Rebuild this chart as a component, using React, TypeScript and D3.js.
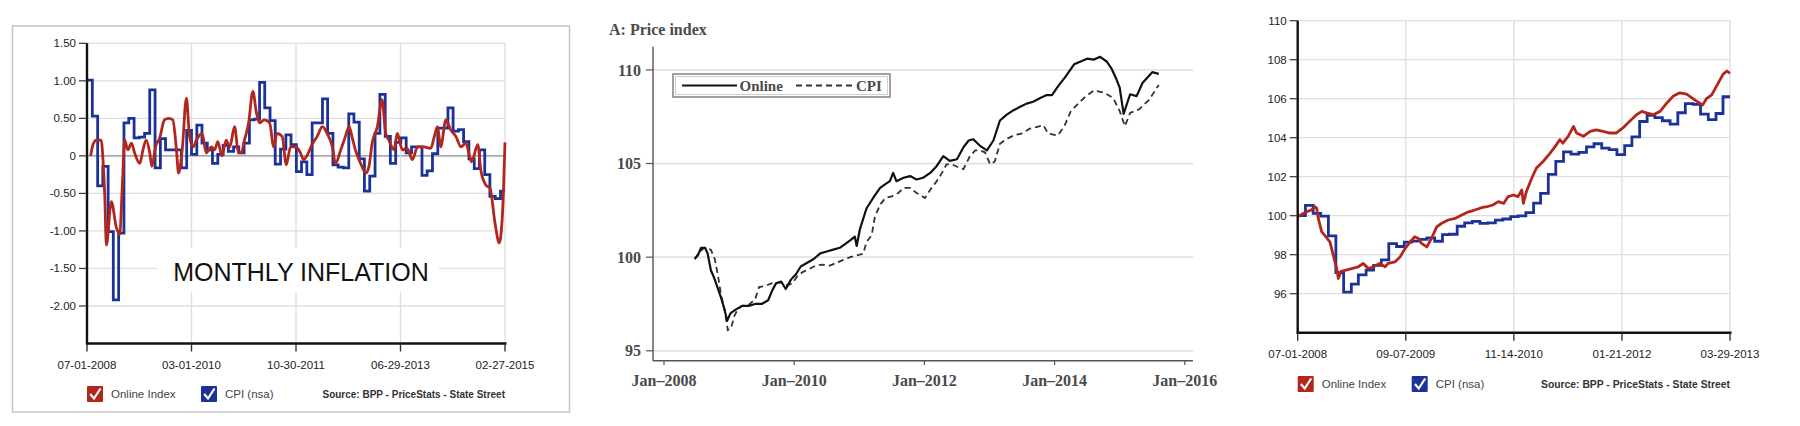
import React from "react";
import * as d3 from "d3";

// ---------- shared ----------
const START = new Date(2008, 6, 1);
const monthDate = (m: number) => new Date(START.getTime() + m * 30.4375 * 864e5);
const parseMDY = d3.timeParse("%m-%d-%Y");

// ---------- Panel 1: monthly inflation ----------
const p1YTicks = [1.5, 1, 0.5, 0, -0.5, -1, -1.5, -2];
const p1XTicks = ["07-01-2008", "03-01-2010", "10-30-2011", "06-29-2013", "02-27-2015"];
const p1CpiChange = [
  1.01, 0.53, -0.4, -0.14, -1.01, -1.92, -1.03,
  0.44, 0.5, 0.24, 0.25, 0.3, 0.88, -0.16, 0.23, 0.08, 0.08, 0.08, -0.16,
  0.34, 0.02, 0.41, 0.17, 0.08, -0.1, 0.02, 0.14, 0.06, 0.12, 0.04, 0.17,
  0.48, 0.49, 0.98, 0.64, 0.47, -0.11, 0.09, 0.28, 0.15, -0.21, -0.08, -0.25,
  0.44, 0.44, 0.76, 0.3, -0.12, -0.15, -0.16, 0.56, 0.45, -0.04, -0.47, -0.27,
  0.3, 0.82, 0.26, -0.1, 0.18, 0.24, 0.04, 0.12, 0.12, -0.26, -0.2, 0.03,
  0.37, 0.37, 0.64, 0.33, 0.35, 0.19, -0.04, -0.17, 0.08, -0.25, -0.54, -0.57,
  -0.47,
];
const p1OnlineMonth = [
  0.7, 1.15, 1.8, 2.7, 3.1, 3.4, 3.7, 4.65, 5.6, 6.25, 6.75, 7.2, 7.8, 8.5, 9.1, 10.1, 10.7, 11.3, 12.0, 12.4,
  13.1, 13.9, 14.8, 15.6, 16.4, 17.1, 17.5, 18.2, 19.0, 19.6, 20.3, 20.9, 22.0, 22.8, 23.8, 24.4, 25.0, 25.8,
  26.6, 27.3, 28.2, 28.9, 29.5, 30.1, 30.9, 31.7, 32.4, 33.0, 33.9, 34.9, 35.7, 36.3, 37.3, 38.1, 38.9, 39.9,
  40.8, 41.4, 42.1, 43.0, 44.0, 45.0, 45.9, 46.9, 47.5, 48.5, 49.4, 50.1, 50.7, 51.3, 52.3, 53.3, 53.9, 54.5,
  55.5, 56.4, 57.1, 57.7, 58.7, 59.3, 60.3, 61.2, 62.2, 63.2, 64.4, 65.7, 66.4, 67.0, 67.6, 68.6, 69.5, 70.5,
  71.5, 72.4, 73.5, 74.7, 75.3, 76.4, 77.0, 78.0, 78.8, 79.4, 79.9,
];
const p1OnlineChange = [
  0.0, 0.15, 0.21, 0.21, -0.1, -0.54, -1.19, -0.61, -0.95, -1.05, -0.4, 0.21, 0.08, 0.17, 0.04, -0.1, 0.08, 0.21, 0.04, -0.14,
  0.12, 0.24, 0.48, 0.5, 0.48, 0.08, -0.23, 0.08, 0.77, 0.26, 0.12, 0.21, 0.3, 0.04, 0.12, 0.08, 0.19, 0.0,
  0.21, 0.12, 0.39, 0.06, 0.04, 0.21, 0.44, 0.86, 0.57, 0.44, 0.48, 0.44, 0.12, 0.3, 0.26, -0.12, 0.12, 0.12,
  0.04, -0.05, 0.01, 0.15, 0.26, 0.39, 0.3, 0.12, -0.1, 0.08, 0.26, 0.39, 0.24, 0.08, -0.1, -0.23, -0.14, 0.17,
  0.39, 0.75, 0.3, 0.21, 0.08, 0.3, 0.08, 0.1, -0.05, 0.12, 0.12, 0.1, 0.26, 0.39, 0.12, 0.48, 0.35, 0.26,
  0.12, 0.17, -0.08, 0.15, -0.2, -0.4, -0.42, -0.9, -1.16, -0.8, 0.18,
];

// ---------- Panel 2: price index ----------
const p2YTicks = [95, 100, 105, 110];
const p2XTicks = [2008, 2010, 2012, 2014, 2016];
const p2OnlineYear = [
  2008.47, 2008.52, 2008.57, 2008.63, 2008.67, 2008.72, 2008.77, 2008.82, 2008.88, 2008.93, 2008.97, 2009.02,
  2009.1, 2009.2, 2009.3, 2009.4, 2009.5, 2009.6, 2009.66, 2009.72, 2009.8, 2009.87, 2009.95, 2010.03, 2010.1,
  2010.2, 2010.3, 2010.4, 2010.5, 2010.6, 2010.7, 2010.78, 2010.86, 2010.93, 2010.96, 2011.01, 2011.11, 2011.22,
  2011.32, 2011.4, 2011.47, 2011.52, 2011.57, 2011.68, 2011.78, 2011.88, 2011.98, 2012.09, 2012.19, 2012.29,
  2012.39, 2012.5, 2012.6, 2012.68, 2012.75, 2012.85, 2012.96, 2013.06, 2013.16, 2013.26, 2013.37, 2013.47,
  2013.57, 2013.67, 2013.78, 2013.88, 2013.96, 2014.06, 2014.16, 2014.3, 2014.4, 2014.5, 2014.6, 2014.7, 2014.8,
  2014.87, 2014.95, 2015.0, 2015.06, 2015.16, 2015.26, 2015.35, 2015.5, 2015.6,
];
const p2OnlineIndex = [
  99.9, 100.1, 100.5, 100.5, 100.2, 99.3, 98.9, 98.4, 97.8, 97.2, 96.6, 97.0,
  97.2, 97.4, 97.4, 97.5, 97.5, 97.7, 98.2, 98.6, 98.7, 98.3, 98.8, 99.1, 99.5,
  99.7, 99.9, 100.2, 100.3, 100.4, 100.5, 100.7, 100.9, 101.1, 100.6, 101.5, 102.6, 103.2,
  103.7, 103.9, 104.06, 104.5, 104.06, 104.24, 104.33, 104.15, 104.24, 104.5, 104.87, 105.4,
  105.14, 105.23, 105.87, 106.23, 106.3, 105.96, 105.7, 106.23, 107.3, 107.6, 107.85, 108.03,
  108.2, 108.3, 108.5, 108.66, 108.65, 109.16, 109.6, 110.3, 110.45, 110.6, 110.55, 110.7, 110.45,
  110.1, 109.5, 109.05, 107.65, 108.7, 108.6, 109.3, 109.88, 109.79,
];
const p2CpiYear = [
  2008.47, 2008.55, 2008.62, 2008.72, 2008.78, 2008.83, 2008.88, 2008.93, 2008.98, 2009.03, 2009.08, 2009.13,
  2009.2, 2009.3, 2009.4, 2009.46, 2009.55, 2009.65, 2009.8, 2009.9, 2009.97, 2010.05, 2010.13, 2010.23,
  2010.33, 2010.43, 2010.55, 2010.65, 2010.86, 2011.06, 2011.11, 2011.19, 2011.24, 2011.32, 2011.4, 2011.5,
  2011.6, 2011.68, 2011.78, 2011.88, 2012.01, 2012.09, 2012.19, 2012.27, 2012.34, 2012.42, 2012.52, 2012.6,
  2012.7, 2012.78, 2012.85, 2012.93, 2013.01, 2013.08, 2013.16, 2013.26, 2013.37, 2013.49, 2013.62, 2013.72,
  2013.83, 2013.9, 2014.05, 2014.15, 2014.25, 2014.45, 2014.6, 2014.75, 2014.9, 2015.0, 2015.08, 2015.16,
  2015.3, 2015.45, 2015.6,
];
const p2CpiIndex = [
  99.9, 100.3, 100.5, 100.4, 99.9, 99.0, 97.9, 97.2, 96.1, 96.2, 96.85, 97.2,
  97.4, 97.45, 97.75, 98.4, 98.45, 98.6, 98.65, 98.5, 98.6, 99.0, 99.2, 99.37,
  99.55, 99.6, 99.55, 99.7, 100.0, 100.18, 100.8, 101.17, 102.17, 102.8, 103.16, 103.25,
  103.43, 103.7, 103.7, 103.43, 103.16, 103.6, 104.06, 104.5, 104.96, 104.96, 104.8, 104.7,
  105.4, 105.7, 105.7, 105.6, 104.96, 105.1, 106.05, 106.3, 106.5, 106.6, 106.86, 106.95,
  107.04, 106.6, 106.5, 107.0, 107.8, 108.5, 108.9, 108.8, 108.5, 107.8, 107.0, 107.7,
  107.9, 108.4, 109.2,
];

// ---------- Panel 3: price index (BPP) ----------
const p3YTicks = [96, 98, 100, 102, 104, 106, 108, 110];
const p3XTicks = ["07-01-2008", "09-07-2009", "11-14-2010", "01-21-2012", "03-29-2013"];
const p3CpiIndex = [
  100.0, 100.53, 100.12, 99.98, 98.97, 97.08, 96.08,
  96.49, 96.97, 97.21, 97.45, 97.73, 98.57, 98.42, 98.64, 98.7, 98.79, 98.86, 98.69,
  99.03, 99.05, 99.46, 99.63, 99.71, 99.61, 99.63, 99.77, 99.83, 99.95, 99.99, 100.16,
  100.64, 101.14, 102.12, 102.79, 103.27, 103.16, 103.25, 103.53, 103.69, 103.47, 103.39, 103.13,
  103.59, 104.04, 104.83, 105.15, 105.03, 104.87, 104.7, 105.28, 105.75, 105.71, 105.21, 104.93,
  105.24, 106.1,
];
const p3OnlineMonth = [
  0.0, 0.52, 1.18, 1.84, 2.28, 2.5, 2.71, 3.15, 3.8, 4.24, 4.68, 5.13, 5.35, 5.7, 6.22, 7.1, 7.97, 8.63, 9.29,
  9.95, 10.8, 11.5, 11.9, 12.8, 13.5, 14.1, 14.8, 15.4, 15.9, 16.3, 17.0, 17.6, 18.3, 18.9, 19.8, 20.7, 21.6,
  22.5, 23.3, 24.2, 24.9, 25.7, 26.4, 27.1, 27.7, 28.4, 29.0, 29.5, 29.7, 30.1, 30.8, 31.4, 32.3, 33.2, 33.9,
  34.5, 34.9, 35.6, 36.3, 36.7, 37.6, 38.5, 39.3, 40.2, 41.1, 41.9, 42.8, 43.7, 44.6, 45.3, 45.9, 46.8, 47.7,
  48.6, 49.4, 50.3, 51.2, 52.3, 53.3, 53.8, 54.5, 55.2, 56.0, 56.5, 56.9,
];
const p3OnlineIndex = [
  99.95, 100.07, 100.2, 100.3, 100.46, 100.38, 99.86, 99.18, 98.87, 98.66, 97.98, 97.29, 96.78, 97.15, 97.2, 97.29, 97.38, 97.55, 97.29,
  97.38, 97.55, 97.38, 97.55, 97.63, 97.9, 98.3, 98.66, 98.92, 98.83, 98.58, 98.4, 98.83, 99.43, 99.6, 99.78, 99.86, 100.03,
  100.2, 100.29, 100.41, 100.46, 100.55, 100.72, 100.63, 100.98, 101.06, 100.98, 101.32, 100.63, 101.23, 101.92, 102.43, 102.78, 103.2, 103.55,
  103.9, 103.72, 104.07, 104.58, 104.24, 104.07, 104.32, 104.4, 104.32, 104.24, 104.24, 104.5, 104.84, 105.18, 105.35, 105.27, 105.18, 105.35,
  105.78, 106.12, 106.3, 106.24, 105.93, 105.68, 106.0, 106.2, 106.7, 107.26, 107.42, 107.3,
];

const RED = "#b3261e";
const BLUE = "#1d3297";
const SANS = "'Liberation Sans', Arial, sans-serif";
const SERIF = "'Liberation Serif', 'Times New Roman', serif";

function CheckBox({ x, y, color }: { x: number; y: number; color: string }) {
  return (
    <g>
      <rect x={x} y={y} width={16} height={16} fill={color} rx={1} />
      <path d={`M${x + 3.2},${y + 8} L${x + 7},${y + 12.5} L${x + 13.5},${y + 2.5}`} stroke="#fff" strokeWidth={2.2} fill="none" />
    </g>
  );
}

function BppPanel(props: {
  x0: number; x1: number; yTop: number; yBot: number;
  dom: [number, number]; end: Date; yTicks: number[]; xTicks: string[];
  fmt: (v: number) => string; zeroLine?: boolean;
  cpi: [Date, number][]; cpiCurve: d3.CurveFactory; online: [Date, number][]; onlineCurve: d3.CurveFactory;
  labelY: number; legendY: number; sourceX: number; children?: React.ReactNode;
}) {
  const { x0, x1, yTop, yBot } = props;
  const x = d3.scaleTime().domain([START, props.end]).range([x0, x1]);
  const y = d3.scaleLinear().domain(props.dom).range([yBot, yTop]);
  const cpiLine = d3.line<[Date, number]>().x((d) => x(d[0])).y((d) => y(d[1])).curve(props.cpiCurve);
  const onLine = d3.line<[Date, number]>().x((d) => x(d[0])).y((d) => y(d[1])).curve(props.onlineCurve);
  return (
    <g>
      {props.yTicks.map((t) => (
        <line key={"gy" + t} x1={x0} x2={x1} y1={y(t)} y2={y(t)} stroke={props.zeroLine && t === 0 ? "#8a8a8a" : "#dedede"} strokeWidth={t === 0 && props.zeroLine ? 1.2 : 1.3} />
      ))}
      {props.xTicks.map((s) => (
        <line key={"gx" + s} x1={x(parseMDY(s)!)} x2={x(parseMDY(s)!)} y1={yTop} y2={yBot} stroke="#dedede" strokeWidth={1.3} />
      ))}
      {props.children}
      <path d={cpiLine(props.cpi) || ""} fill="none" stroke={BLUE} strokeWidth={2.8} strokeLinejoin="miter" />
      <path d={onLine(props.online) || ""} fill="none" stroke={RED} strokeWidth={2.8} strokeLinejoin="round" />
      <line x1={x0} x2={x0} y1={yTop} y2={yBot + 1} stroke="#111" strokeWidth={2.4} />
      <line x1={x0 - 1} x2={x1 + 1.5} y1={yBot} y2={yBot} stroke="#111" strokeWidth={2.4} />
      {props.yTicks.map((t) => (
        <g key={"ty" + t}>
          <line x1={x0 - 8} x2={x0} y1={y(t)} y2={y(t)} stroke="#333" strokeWidth={1.2} />
          <text x={x0 - 11} y={y(t)} dy="0.35em" textAnchor="end" fontFamily={SANS} fontSize={11.5} fill="#222">{props.fmt(t)}</text>
        </g>
      ))}
      {props.xTicks.map((s) => (
        <g key={"tx" + s}>
          <line x1={x(parseMDY(s)!)} x2={x(parseMDY(s)!)} y1={yBot} y2={yBot + 8} stroke="#333" strokeWidth={1.4} />
          <text x={x(parseMDY(s)!)} y={props.labelY} dy="0.35em" textAnchor="middle" fontFamily={SANS} fontSize={11.5} fill="#222">{s}</text>
        </g>
      ))}
      <CheckBox x={x0} y={props.legendY - 8} color={RED} />
      <text x={x0 + 24} y={props.legendY} dy="0.35em" fontFamily={SANS} fontSize={11.5} fill="#444">Online Index</text>
      <CheckBox x={x0 + 114} y={props.legendY - 8} color={BLUE} />
      <text x={x0 + 138} y={props.legendY} dy="0.35em" fontFamily={SANS} fontSize={11.5} fill="#444">CPI (nsa)</text>
      <text x={props.sourceX} y={props.legendY} dy="0.35em" fontFamily={SANS} fontSize={10} fontWeight="bold" fill="#333"
        textLength={x1 - props.sourceX} lengthAdjust="spacingAndGlyphs">Source: BPP - PriceStats - State Street</text>
    </g>
  );
}

export default function App() {
  // Panel 1
  const p1End = parseMDY("02-27-2015")!;
  const p1Cpi: [Date, number][] = p1CpiChange.map((v, k) => [d3.timeMonth.offset(START, k), v] as [Date, number]);
  p1Cpi.push([p1End, p1CpiChange[p1CpiChange.length - 1]]);
  const p1Online: [Date, number][] = p1OnlineMonth.map((m, i) => [monthDate(m), p1OnlineChange[i]] as [Date, number]);

  // Panel 3
  const p3End = parseMDY("03-29-2013")!;
  const p3Cpi: [Date, number][] = p3CpiIndex.map((v, k) => [d3.timeMonth.offset(START, k), v] as [Date, number]);
  p3Cpi.push([p3End, p3CpiIndex[p3CpiIndex.length - 1]]);
  const p3Online: [Date, number][] = p3OnlineMonth.map((m, i) => [monthDate(m), p3OnlineIndex[i]] as [Date, number]);

  // Panel 2
  const x2 = d3.scaleLinear().domain([2007.831, 2016.126]).range([653, 1193]);
  const y2 = d3.scaleLinear().domain([94.47, 111.24]).range([360.7, 46.7]);
  const onlinePath = d3.line<[number, number]>().x((d) => x2(d[0])).y((d) => y2(d[1]))(p2OnlineYear.map((yr, i) => [yr, p2OnlineIndex[i]]));
  const cpiPath = d3.line<[number, number]>().x((d) => x2(d[0])).y((d) => y2(d[1]))(p2CpiYear.map((yr, i) => [yr, p2CpiIndex[i]]));

  return (
    <svg width={1800} height={426} style={{ position: "absolute", left: 0, top: 0, background: "#fff" }}>
      <rect x={0} y={0} width={1800} height={426} fill="#fff" />
      {/* Panel 1 */}
      <rect x={12.5} y={26} width={557} height={386} fill="none" stroke="#c4c4c4" strokeWidth={1.5} />
      <BppPanel x0={87} x1={505} yTop={43.3} yBot={343.5} dom={[-2.5, 1.5]} end={p1End}
        yTicks={p1YTicks} xTicks={p1XTicks} fmt={(v) => (v === 0 ? "0" : v.toFixed(2))} zeroLine
        cpi={p1Cpi} cpiCurve={d3.curveStepAfter} online={p1Online} onlineCurve={d3.curveMonotoneX}
        labelY={365} legendY={394} sourceX={322.5}>
        <rect x={157} y={248} width={282} height={44} fill="#fff" />
        <text x={301} y={272} dy="0.35em" textAnchor="middle" fontFamily={SANS} fontSize={25} fill="#111">MONTHLY INFLATION</text>
      </BppPanel>

      {/* Panel 2 */}
      <text x={609} y={29} dy="0.35em" fontFamily={SERIF} fontSize={16} fontWeight="bold" fill="#4a4a4a">A: Price index</text>
      {p2YTicks.map((t) => (
        <g key={"g2" + t}>
          <line x1={653} x2={1193} y1={y2(t)} y2={y2(t)} stroke="#e2e2e2" strokeWidth={1.8} />
          <line x1={646} x2={653} y1={y2(t)} y2={y2(t)} stroke="#555" strokeWidth={1.2} />
          <text x={641} y={y2(t)} dy="0.35em" textAnchor="end" fontFamily={SERIF} fontSize={16} fontWeight="bold" fill="#4a4a4a">{t}</text>
        </g>
      ))}
      <line x1={653} x2={653} y1={46.7} y2={360.7} stroke="#555" strokeWidth={1.4} />
      <line x1={653} x2={1193} y1={360.7} y2={360.7} stroke="#555" strokeWidth={1.4} />
      {p2XTicks.map((t) => (
        <g key={"x2" + t}>
          <line x1={x2(t)} x2={x2(t)} y1={360.7} y2={365} stroke="#555" strokeWidth={1.2} />
          <text x={x2(t)} y={380} dy="0.35em" textAnchor="middle" fontFamily={SERIF} fontSize={16} fontWeight="bold" fill="#4a4a4a">{`Jan–${t}`}</text>
        </g>
      ))}
      <path d={cpiPath || ""} fill="none" stroke="#333" strokeWidth={1.8} strokeDasharray="6,4" />
      <path d={onlinePath || ""} fill="none" stroke="#111" strokeWidth={2.2} strokeLinejoin="round" />
      <rect x={673} y={74} width={217} height={23} fill="#fff" stroke="#8a8a8a" strokeWidth={1.6} />
      <rect x={675.5} y={76.5} width={212} height={18} fill="none" stroke="#d0d0d0" strokeWidth={1} />
      <line x1={682} x2={737} y1={85.5} y2={85.5} stroke="#111" strokeWidth={2.2} />
      <text x={739.5} y={85.5} dy="0.35em" fontFamily={SERIF} fontSize={15} fontWeight="bold" fill="#4a4a4a">Online</text>
      <line x1={796} x2={854} y1={85.5} y2={85.5} stroke="#333" strokeWidth={1.8} strokeDasharray="6,4" />
      <text x={856} y={85.5} dy="0.35em" fontFamily={SERIF} fontSize={15} fontWeight="bold" fill="#4a4a4a">CPI</text>

      {/* Panel 3 */}
      <BppPanel x0={1297.7} x1={1730} yTop={20.7} yBot={332.7} dom={[94, 110]} end={p3End}
        yTicks={p3YTicks} xTicks={p3XTicks} fmt={(v) => String(v)}
        cpi={p3Cpi} cpiCurve={d3.curveStepAfter} online={p3Online} onlineCurve={d3.curveLinear}
        labelY={353.5} legendY={384} sourceX={1541} />
    </svg>
  );
}
